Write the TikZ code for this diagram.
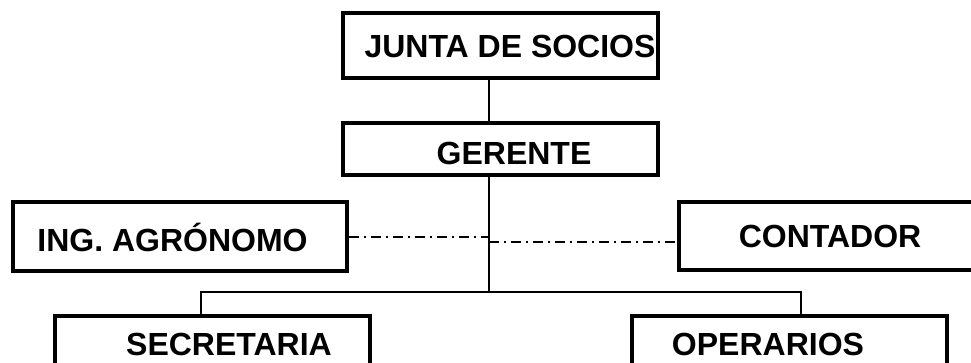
\documentclass[tikz,border=0pt]{standalone}
\usepackage{fontspec}
\setmainfont{Liberation Sans}
\begin{document}
\begin{tikzpicture}[x=1pt,y=-1pt,
  box/.style={draw,line width=4pt,rectangle,inner sep=0pt,minimum width=#1},
  lbl/.style={font=\fontsize{32}{32}\selectfont\bfseries,inner sep=0pt},
  conn/.style={line width=2pt},
  dd/.style={line width=1.6pt,dash pattern=on 10pt off 5pt on 2pt off 5pt}]
\useasboundingbox (0,0) rectangle (971,363);
\clip (0,0) rectangle (971,363);
% boxes
\node[box=315pt,minimum height=65pt] (junta) at (500.5,45.5) {};
\node[box=315pt,minimum height=52pt] (gerente) at (500.5,149) {};
\node[box=334pt,minimum height=69pt] (ing) at (180,236.5) {};
\node[box=300pt,minimum height=68pt] (contador) at (829,236) {};
\node[box=315pt,minimum height=70pt] (secretaria) at (212.5,351) {};
\node[box=315pt,minimum height=70pt] (operarios) at (789.5,351) {};
% texts
\node[lbl] (tjunta) at (510,46) {JUNTA DE SOCIOS};
\node[lbl] (tgerente) at (514,153) {GERENTE};
\node[lbl] (ting) at (172.5,237) {ING. AGRÓNOMO};
\node[lbl] (tcontador) at (830,236) {CONTADOR};
\node[lbl,text depth=0pt,anchor=base] (tsecretaria) at (229,355.5) {SECRETARIA};
\node[lbl,text depth=0pt,anchor=base] (toperarios) at (768,355.5) {OPERARIOS};
% connectors
\coordinate (bus) at (489,292);
\coordinate (dl) at (489,237);
\coordinate (dr) at (489,242);
\draw[conn] (junta.south -| bus) -- (gerente.north -| bus);
\draw[conn] (gerente.south -| bus) -- (bus);
\draw[conn] (secretaria.north -| 201,0) -- (201,292) -- (801,292) -- (operarios.north -| 801,0);
\draw[dd] (ing.east |- dl) -- (dl);
\draw[dd] (dr) -- (contador.west |- dr);
\end{tikzpicture}
\end{document}
